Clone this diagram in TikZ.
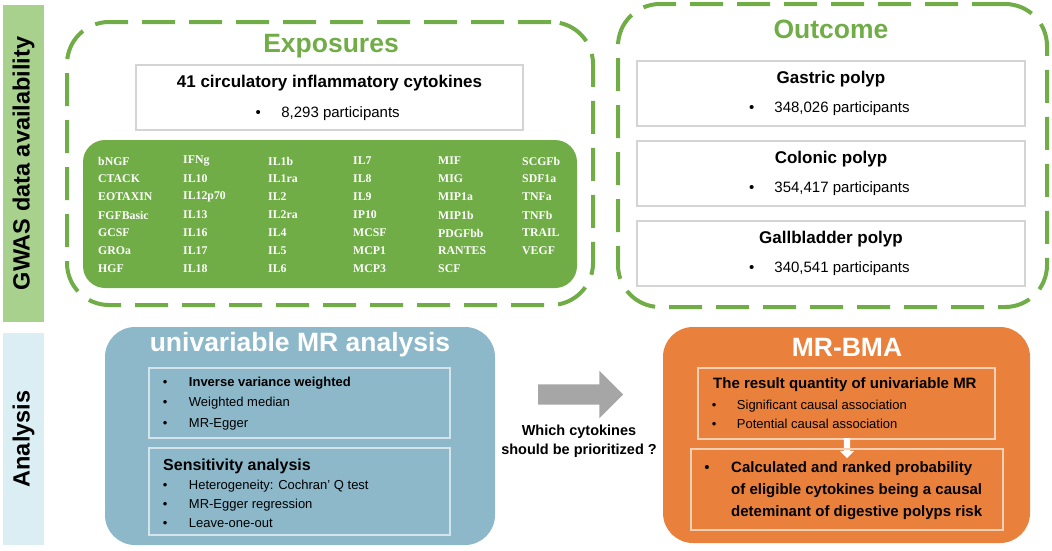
\documentclass[tikz,border=0pt]{standalone}
\usepackage{fontspec}
\setmainfont{Liberation Sans}
\newfontfamily\cytofont{Liberation Serif}
\usetikzlibrary{shapes.arrows}

\definecolor{gwasgreen}{HTML}{70AD47}
\definecolor{bargreen}{HTML}{A9D18E}
\definecolor{barblue}{HTML}{DAEEF3}
\definecolor{mrblue}{HTML}{8CB8CA}
\definecolor{bmaorange}{HTML}{E9803B}
\definecolor{boxgray}{HTML}{D4D4D4}
\definecolor{arrowgray}{HTML}{A6A6A6}

\begin{document}
\begin{tikzpicture}
        [x=1pt, y=-1pt,
        sidebar/.style={rotate=90, inner sep=0pt, minimum height=41pt,
           font=\bfseries\fontsize{23.5}{28}\selectfont},
        dashbox/.style={draw=gwasgreen, line width=4pt, dash pattern=on 33pt off 14pt,
           rounded corners=42pt, inner sep=0pt},
        whitebox/.style={draw=boxgray, line width=1.2pt, fill=white, inner sep=0pt},
        bluebox/.style={draw=white!62!mrblue, line width=1.5pt, inner sep=0pt},
        orangebox/.style={draw=white!62!bmaorange, line width=1.5pt, inner sep=0pt},
        bigtitle/.style={inner sep=0pt, font=\bfseries\fontsize{26.5}{32}\selectfont},
        boxtitle/.style={inner sep=0pt, font=\bfseries\fontsize{17}{20}\selectfont},
        count/.style={anchor=west, inner sep=0pt, font=\fontsize{15}{18}\selectfont},
        cyto/.style={anchor=west, inner sep=0pt, text=white,
           font=\cytofont\bfseries\fontsize{11.8}{13}\selectfont},
        listtext/.style={anchor=west, align=left, inner sep=0pt},
        blockarrow/.style={single arrow, inner xsep=0pt, single arrow head indent=0pt},
        scale=1]
        \useasboundingbox (0,0) rectangle (1052,550);

        % side labels
        \node (gwasbar) at (23.5,163.5) [sidebar, fill=bargreen, minimum width=317pt] {GWAS data availability};
        \node (anabar) at (23.5,439) [sidebar, fill=barblue, minimum width=212pt] {Analysis};

        % exposures
        \node (expo) at (330,163.5) [dashbox, minimum width=526pt, minimum height=283pt] {};
        \node (expotitle) at (331,46) [bigtitle, text=gwasgreen] {Exposures};
        \node (cytobox) at (329.5,97.5) [whitebox, minimum width=387pt, minimum height=65pt] {};
        \node (cytotitle) at (329.5,83) [boxtitle] {41 circulatory inflammatory cytokines};
        \node (cyton) at (255.4,114) [count] {\textbullet\hspace{20.5pt}8,293 participants};
        \node (cytogrid) at (330,214) [fill=gwasgreen, rounded corners=22pt, minimum width=494pt, minimum height=148pt] {};
        \foreach \name [count=\r from 0] in {bNGF,CTACK,EOTAXIN,FGFBasic,GCSF,GROa,HGF}
           \node (c0-\r) at (98,161+18*\r) [cyto] {\name};
        \foreach \name [count=\r from 0] in {IFNg,IL10,IL12p70,IL13,IL16,IL17,IL18}
           \node (c1-\r) at (183,161+18*\r) [cyto] {\name};
        \foreach \name [count=\r from 0] in {IL1b,IL1ra,IL2,IL2ra,IL4,IL5,IL6}
           \node (c2-\r) at (268,161+18*\r) [cyto] {\name};
        \foreach \name [count=\r from 0] in {IL7,IL8,IL9,IP10,MCSF,MCP1,MCP3}
           \node (c3-\r) at (353,161+18*\r) [cyto] {\name};
        \foreach \name [count=\r from 0] in {MIF,MIG,MIP1a,MIP1b,PDGFbb,RANTES,SCF}
           \node (c4-\r) at (438,161+18*\r) [cyto] {\name};
        \foreach \name [count=\r from 0] in {SCGFb,SDF1a,TNFa,TNFb,TRAIL,VEGF}
           \node (c5-\r) at (522,161+18*\r) [cyto] {\name};

        % outcome
        \node (outc) at (832.5,155.5) [dashbox, minimum width=429pt, minimum height=303pt] {};
        \node (outtitle) at (831,29) [bigtitle, text=gwasgreen] {Outcome};
        \node (gastricbox) at (831,93.5) [whitebox, minimum width=388pt, minimum height=65pt] {};
        \node (gastric) at (831,79) [boxtitle] {Gastric polyp};
        \node (gastricn) at (749,109) [count] {\textbullet\hspace{20pt}348,026 participants};
        \node (colonicbox) at (831,173.5) [whitebox, minimum width=388pt, minimum height=65pt] {};
        \node (colonic) at (831,159) [boxtitle] {Colonic polyp};
        \node (colonicn) at (749,189) [count] {\textbullet\hspace{20pt}354,417 participants};
        \node (gallbox) at (831,253.5) [whitebox, minimum width=388pt, minimum height=65pt] {};
        \node (gall) at (831,239) [boxtitle] {Gallbladder polyp};
        \node (galln) at (749,269) [count] {\textbullet\hspace{20pt}340,541 participants};

        % univariable MR
        \node (uvmr) at (300,436) [fill=mrblue, rounded corners=30pt, minimum width=390pt, minimum height=218pt] {};
        \node (uvtitle) at (300,345) [bigtitle, text=white] {univariable MR analysis};
        \node (methbox) at (299.5,403) [bluebox, minimum width=301pt, minimum height=70pt] {};
        \node (methlist) at (162.7,403.5) [listtext, font=\fontsize{13}{20.5}\selectfont]
           {\textbullet\hspace{21.5pt}\textbf{Inverse variance weighted}\\
            \textbullet\hspace{21.5pt}Weighted median\\
            \textbullet\hspace{21.5pt}MR-Egger};
        \node (sensbox) at (299.5,491.5) [bluebox, minimum width=301pt, minimum height=87pt] {};
        \node (senstitle) at (163,466) [listtext, font=\bfseries\fontsize{16}{19}\selectfont] {Sensitivity analysis};
        \node (senslist) at (162.7,504) [listtext, font=\fontsize{13}{19}\selectfont]
           {\textbullet\hspace{21.5pt}Heterogeneity: Cochran' Q test\\
            \textbullet\hspace{21.5pt}MR-Egger regression\\
            \textbullet\hspace{21.5pt}Leave-one-out};

        % middle arrow
        \node (bigarrow) at (575.5,394.5) [blockarrow, fill=arrowgray, inner ysep=10pt,
           minimum height=85pt, single arrow head extend=13.5pt] {};
        \node (question) at (579,441) [align=center, inner sep=0pt, font=\bfseries\fontsize{14.5}{19}\selectfont]
           {Which cytokines\\should be prioritized ?};

        % MR-BMA
        \node (bma) at (846.5,435) [fill=bmaorange, rounded corners=30pt, minimum width=367pt, minimum height=216pt] {};
        \node (bmatitle) at (847,347) [bigtitle, text=white] {MR-BMA};
        \node (resbox) at (846.5,403.5) [orangebox, minimum width=297pt, minimum height=71pt] {};
        \node (restitle) at (713,385) [listtext, font=\bfseries\fontsize{15}{18}\selectfont] {The result quantity of univariable MR};
        \node (reslist) at (711.7,414.5) [listtext, font=\fontsize{13}{19.5}\selectfont]
           {\textbullet\hspace{20.5pt}Significant causal association\\
            \textbullet\hspace{20.5pt}Potential causal association};
        \node (downarrow) at (847,446.5) [blockarrow, shape border rotate=270, fill=white, inner xsep=3pt, inner ysep=3pt,
           minimum height=20pt, single arrow head extend=4pt] {};
        \node (calcbox) at (847,489.5) [orangebox, minimum width=312pt, minimum height=81pt] {};
        \node (calcbullet) at (707,469) [inner sep=0pt, font=\fontsize{15}{18}\selectfont] {\textbullet};
        \node (calctext) at (731,491) [listtext, font=\bfseries\fontsize{15}{22}\selectfont]
           {Calculated and ranked probability\\
            of eligible cytokines being a causal\\
            deteminant of digestive polyps risk};
\end{tikzpicture}
\end{document}
